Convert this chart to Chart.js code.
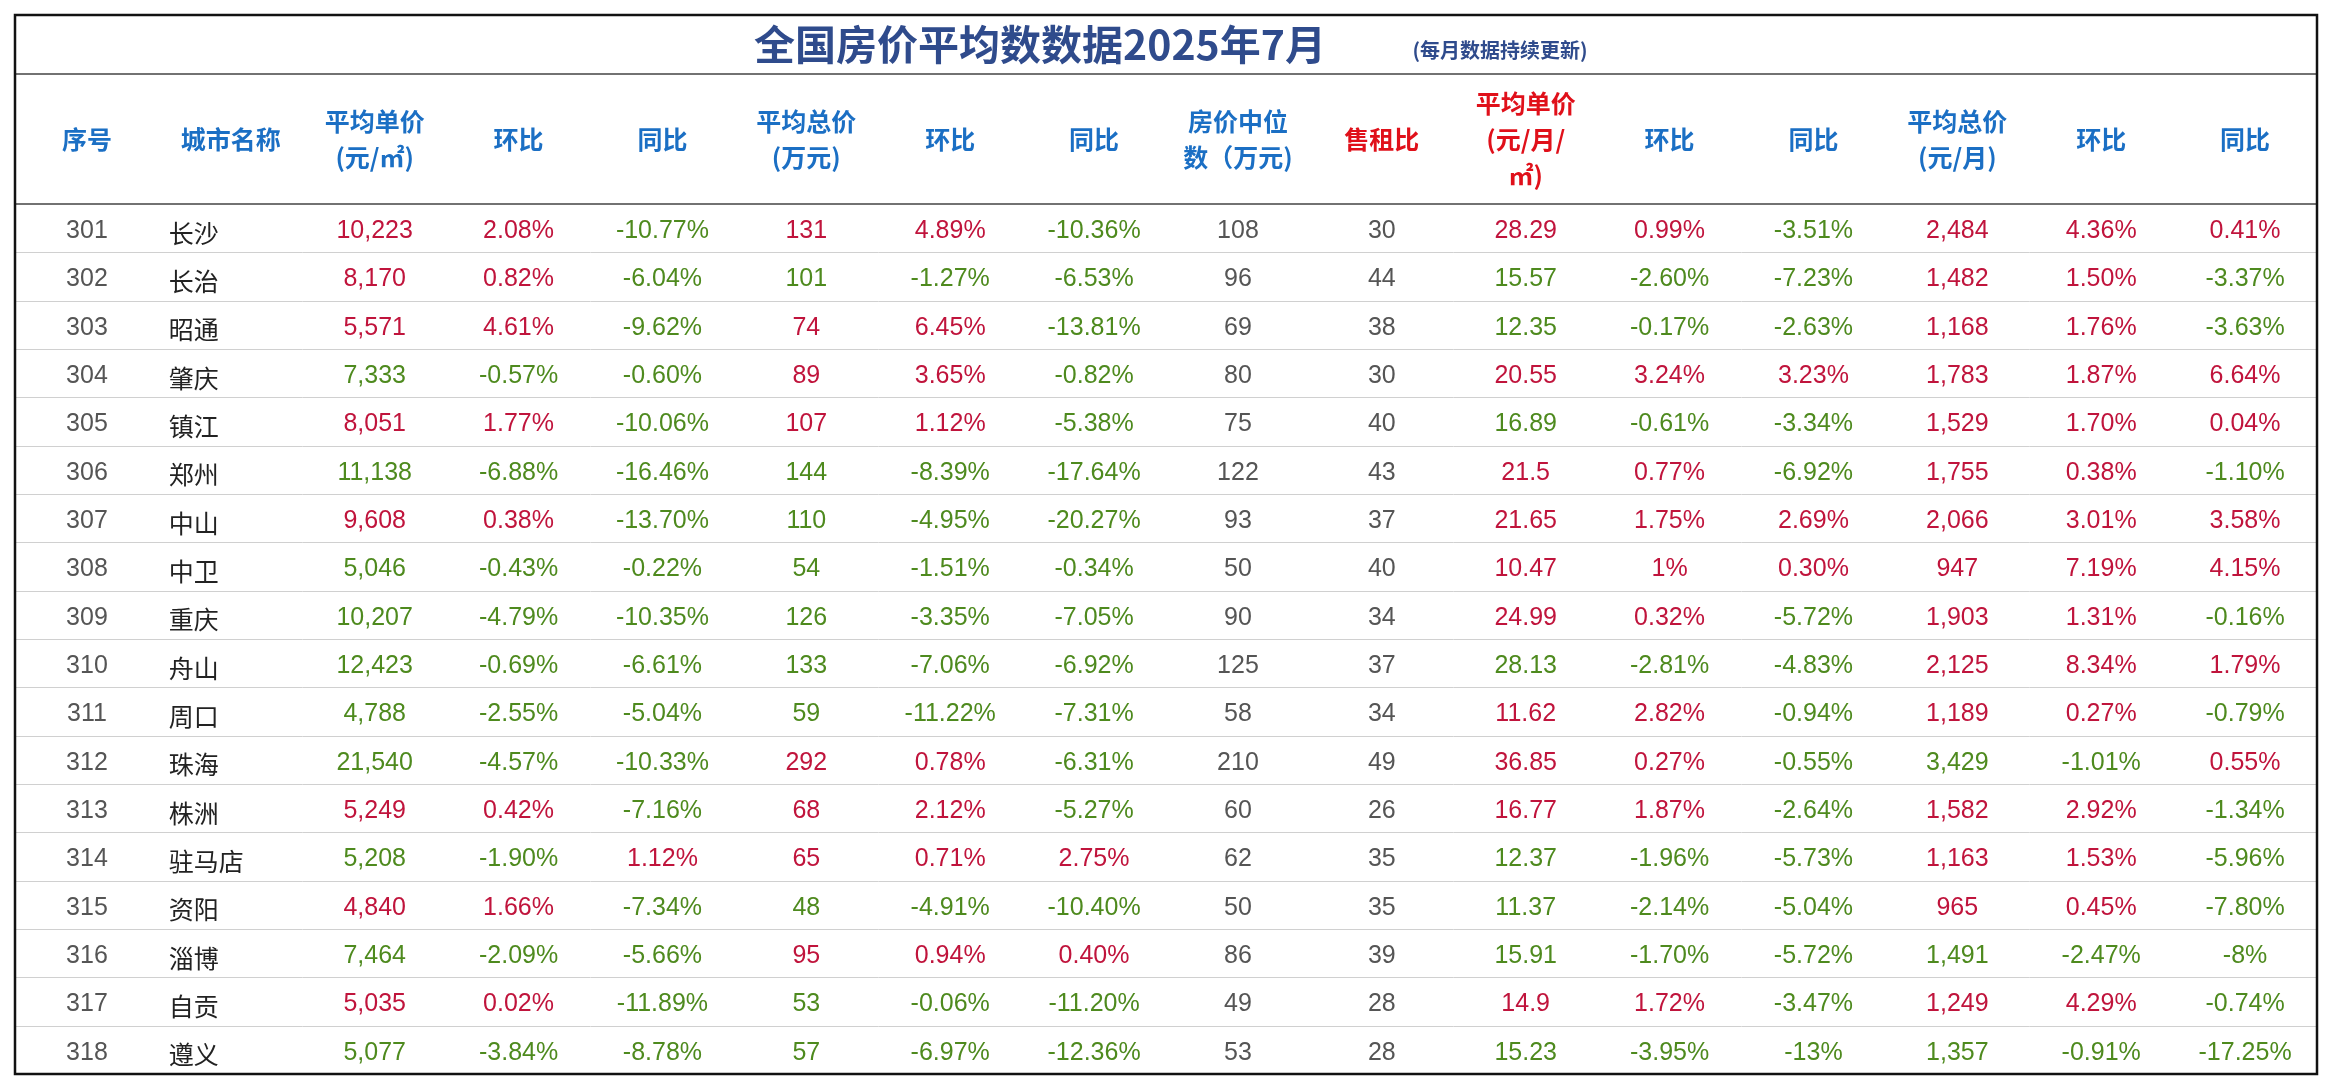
<!DOCTYPE html>
<html><head><meta charset="utf-8">
<script src="https://cdn.jsdelivr.net/npm/chart.js@4"></script>
<style>html,body{margin:0;padding:0;background:#fff}#w{width:2332px;height:1080px}</style>
</head><body><div id="w"><canvas id="c"></canvas></div>
<script>
const titleText = "全国房价平均数数据2025年7月";
const subtitleText = "(每月数据持续更新)";
const headers = [["序号"],["城市名称"],["平均单价","(元/㎡)"],["环比"],["同比"],["平均总价","(万元)"],["环比"],["同比"],["房价中位","数（万元)"],["售租比"],["平均单价","(元/月/","㎡)"],["环比"],["同比"],["平均总价","(元/月)"],["环比"],["同比"]];
const ids = [301,302,303,304,305,306,307,308,309,310,311,312,313,314,315,316,317,318];
const cities = ["长沙","长治","昭通","肇庆","镇江","郑州","中山","中卫","重庆","舟山","周口","珠海","株洲","驻马店","资阳","淄博","自贡","遵义"];
const avgPrice = ["10,223","8,170","5,571","7,333","8,051","11,138","9,608","5,046","10,207","12,423","4,788","21,540","5,249","5,208","4,840","7,464","5,035","5,077"];
const avgPriceMoM = ["2.08%","0.82%","4.61%","-0.57%","1.77%","-6.88%","0.38%","-0.43%","-4.79%","-0.69%","-2.55%","-4.57%","0.42%","-1.90%","1.66%","-2.09%","0.02%","-3.84%"];
const avgPriceYoY = ["-10.77%","-6.04%","-9.62%","-0.60%","-10.06%","-16.46%","-13.70%","-0.22%","-10.35%","-6.61%","-5.04%","-10.33%","-7.16%","1.12%","-7.34%","-5.66%","-11.89%","-8.78%"];
const totalPrice = ["131","101","74","89","107","144","110","54","126","133","59","292","68","65","48","95","53","57"];
const totalMoM = ["4.89%","-1.27%","6.45%","3.65%","1.12%","-8.39%","-4.95%","-1.51%","-3.35%","-7.06%","-11.22%","0.78%","2.12%","0.71%","-4.91%","0.94%","-0.06%","-6.97%"];
const totalYoY = ["-10.36%","-6.53%","-13.81%","-0.82%","-5.38%","-17.64%","-20.27%","-0.34%","-7.05%","-6.92%","-7.31%","-6.31%","-5.27%","2.75%","-10.40%","0.40%","-11.20%","-12.36%"];
const medianPrice = ["108","96","69","80","75","122","93","50","90","125","58","210","60","62","50","86","49","53"];
const saleRentRatio = ["30","44","38","30","40","43","37","40","34","37","34","49","26","35","35","39","28","28"];
const rentUnit = ["28.29","15.57","12.35","20.55","16.89","21.5","21.65","10.47","24.99","28.13","11.62","36.85","16.77","12.37","11.37","15.91","14.9","15.23"];
const rentUnitMoM = ["0.99%","-2.60%","-0.17%","3.24%","-0.61%","0.77%","1.75%","1%","0.32%","-2.81%","2.82%","0.27%","1.87%","-1.96%","-2.14%","-1.70%","1.72%","-3.95%"];
const rentUnitYoY = ["-3.51%","-7.23%","-2.63%","3.23%","-3.34%","-6.92%","2.69%","0.30%","-5.72%","-4.83%","-0.94%","-0.55%","-2.64%","-5.73%","-5.04%","-5.72%","-3.47%","-13%"];
const rentTotal = ["2,484","1,482","1,168","1,783","1,529","1,755","2,066","947","1,903","2,125","1,189","3,429","1,582","1,163","965","1,491","1,249","1,357"];
const rentTotalMoM = ["4.36%","1.50%","1.76%","1.87%","1.70%","0.38%","3.01%","7.19%","1.31%","8.34%","0.27%","-1.01%","2.92%","1.53%","0.45%","-2.47%","4.29%","-0.91%"];
const rentTotalYoY = ["0.41%","-3.37%","-3.63%","6.64%","0.04%","-1.10%","3.58%","4.15%","-0.16%","1.79%","-0.79%","0.55%","-1.34%","-5.96%","-7.80%","-8%","-0.74%","-17.25%"];

const RED="#c0143c", GREEN="#4e8a1e", GRAY="#555", BLUE="#1b6fc4";
const FONT='"Liberation Sans","Noto Sans CJK SC",sans-serif';
const CJK='"Noto Sans CJK SC",sans-serif';
const sign=v=>String(v).trim().startsWith('-')?GREEN:RED;
const columns=[
 {v:ids.map(String),c:()=>GRAY},
 {v:cities,c:()=>"#222",left:true},
 {v:avgPrice,c:i=>sign(avgPriceMoM[i])},
 {v:avgPriceMoM,c:i=>sign(avgPriceMoM[i])},
 {v:avgPriceYoY,c:i=>sign(avgPriceYoY[i])},
 {v:totalPrice,c:i=>sign(totalMoM[i])},
 {v:totalMoM,c:i=>sign(totalMoM[i])},
 {v:totalYoY,c:i=>sign(totalYoY[i])},
 {v:medianPrice,c:()=>GRAY},
 {v:saleRentRatio,c:()=>GRAY},
 {v:rentUnit,c:i=>sign(rentUnitMoM[i])},
 {v:rentUnitMoM,c:i=>sign(rentUnitMoM[i])},
 {v:rentUnitYoY,c:i=>sign(rentUnitYoY[i])},
 {v:rentTotal,c:i=>sign(rentTotalMoM[i])},
 {v:rentTotalMoM,c:i=>sign(rentTotalMoM[i])},
 {v:rentTotalYoY,c:i=>sign(rentTotalYoY[i])},
];
const colKeys=headers.map((h,i)=>"c"+i);
const rowKeys=ids.map(String);

const tablePlugin={id:'table',afterDraw(ch){
 const ctx=ch.ctx,a=ch.chartArea,x=ch.scales.x,y=ch.scales.y;
 const L=a.left,R=a.right,T=15,H1=74,H2=a.top,B=a.bottom;
 ctx.save();
 // row separators
 ctx.strokeStyle="#d0d0d0";ctx.lineWidth=1;
 const rh=(B-H2)/rowKeys.length;
 for(let j=1;j<rowKeys.length;j++){const yy=Math.round(H2+rh*j)+0.5;ctx.beginPath();ctx.moveTo(L,yy);ctx.lineTo(R,yy);ctx.stroke();}
 ctx.strokeStyle="#444";ctx.lineWidth=1.5;
 ctx.beginPath();ctx.moveTo(L,H1);ctx.lineTo(R,H1);ctx.moveTo(L,H2);ctx.lineTo(R,H2);ctx.stroke();
 ctx.lineWidth=2.5;ctx.strokeStyle="#111";ctx.strokeRect(L,T,R-L,B-T);
 // title
 ctx.textBaseline="middle";ctx.textAlign="center";
 ctx.fillStyle="#2f4b8c";ctx.font="bold 41px "+CJK;ctx.fillText(titleText,1040,(T+H1)/2);
 ctx.font="bold 20px "+CJK;ctx.fillStyle="#2f4b8c";ctx.fillText(subtitleText,1500,(T+H1)/2+6);
 // headers
 ctx.font="bold 25px "+CJK;
 headers.forEach((h,i)=>{const cx=x.getPixelForValue(i);
  ctx.fillStyle=(i===9||i===10)?"#e0101a":BLUE;
  const lh=36,cy=(H1+H2)/2-(h.length-1)*lh/2;
  h.forEach((t,k)=>ctx.fillText(t,cx,cy+k*lh));});
 // cells
 ctx.font="25px "+FONT;
 columns.forEach((col,i)=>{const cx=x.getPixelForValue(i);
  col.v.forEach((v,j)=>{const cy=y.getPixelForValue(j)+3;ctx.fillStyle=col.c(j);
   if(col.left){ctx.textAlign="left";ctx.font="25px "+CJK;ctx.fillText(v,cx-62,cy+2);ctx.font="25px "+FONT;ctx.textAlign="center";}
   else ctx.fillText(v,cx,cy);});});
 ctx.restore();
}};

new Chart(document.getElementById('c'),{
 type:'scatter',
 data:{datasets:[{data:[],pointRadius:0}]},
 options:{responsive:true,maintainAspectRatio:false,animation:false,
  layout:{padding:{left:15,right:15,top:204,bottom:6}},
  plugins:{legend:{display:false},tooltip:{enabled:false}},
  scales:{
   x:{type:'category',labels:colKeys,offset:true,display:false},
   y:{type:'category',labels:rowKeys,offset:true,display:false}
  }},
 plugins:[tablePlugin]
});
</script></body></html>
